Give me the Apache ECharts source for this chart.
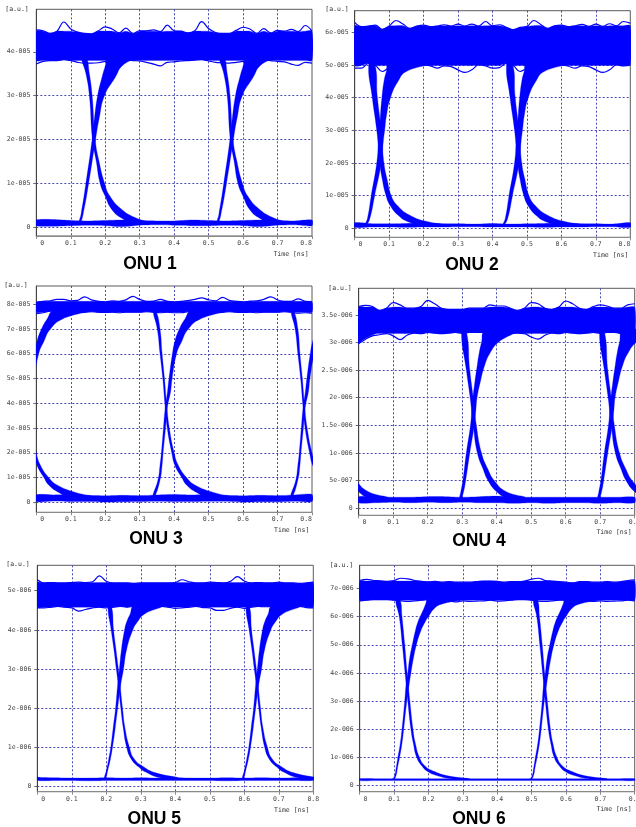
<!DOCTYPE html>
<html><head><meta charset="utf-8">
<style>html,body{margin:0;padding:0;background:#fff;overflow:hidden}#c{width:636px;height:827px;filter:blur(0.55px)}</style>
<script src="https://cdn.jsdelivr.net/npm/echarts@6/dist/echarts.min.js"></script>
</head><body><div id="c"></div>
<script>
// Shared sample positions (ns)
const xSamples=[0,.02,.04,.06,.08,.1,.12,.14,.16,.18,.2,.22,.24,.26,.28,.3,.32,.34,.36,.38,.4,.42,.44,.46,.48,.5,.52,.54,.56,.58,.6,.62,.64,.66,.68,.7,.72,.74,.76,.78,.8];
const xLow=[0,.05,.1,.15,.2,.25,.3,.35,.4,.45,.5,.55,.6,.65,.7,.75,.8];
const xTicks=[0,.1,.2,.3,.4,.5,.6,.7,.8];
const xTickLabels=[' 0','0.1','0.2','0.3','0.4','0.5','0.6','0.7','0.8'];
const edgeOffsets=[-.4,0,.4];

// ONU 1 (y in 1e-5)
const o1Ticks=[0,1,2,3,4];
const o1Labels=['0','1e-005','2e-005','3e-005','4e-005'];
const o1HiTop=[4.50,4.48,4.42,4.47,4.68,4.52,4.45,4.42,4.41,4.48,4.57,4.52,4.43,4.54,4.42,4.48,4.48,4.50,4.46,4.61,4.48,4.47,4.43,4.48,4.69,4.53,4.44,4.42,4.42,4.49,4.56,4.52,4.42,4.53,4.43,4.49,4.47,4.51,4.46,4.60,4.47];
const o1HiBot=[3.72,3.78,3.80,3.80,3.82,3.80,3.76,3.74,3.74,3.75,3.78,3.81,3.82,3.82,3.80,3.79,3.76,3.72,3.68,3.76,3.77,3.79,3.80,3.81,3.82,3.79,3.76,3.75,3.74,3.76,3.78,3.80,3.82,3.81,3.80,3.78,3.77,3.72,3.69,3.76,3.74];
const o1LoTop=[.16,.17,.15,.14,.15,.16,.15,.14,.14,.16,.15,.14,.15,.16,.15,.14,.16];
const o1LoBot=[.03,.02,.03,.04,.03,.01,.04,.05,.04,.03,.03,.04,.03,.01,.04,.05,.03];
const o1RiseY=[.1,.3,1,2,2.5,3,3.4,3.7,3.9];
const o1RiseL=[.124,.13,.144,.162,.169,.178,.19,.201,.209];
const o1RiseR=[.128,.136,.152,.172,.183,.198,.228,.252,.30];
const o1FallY=[3.9,3.5,3,2,1.5,1,.7,.4,.2,.1];
const o1FallL=[.131,.144,.154,.163,.174,.185,.2,.219,.248,.281];
const o1FallR=[.144,.154,.162,.171,.182,.198,.214,.248,.291,.33];

// ONU 2 (y in 1e-5)
const o2Ticks=[0,1,2,3,4,5,6];
const o2Labels=['0','1e-005','2e-005','3e-005','4e-005','5e-005','6e-005'];
const o2HiTop=[6.30,6.17,6.19,6.22,6.09,6.19,6.36,6.25,6.12,6.19,6.22,6.17,6.19,6.23,6.19,6.25,6.19,6.25,6.19,6.33,6.20,6.23,6.15,6.08,6.15,6.18,6.36,6.24,6.12,6.20,6.22,6.17,6.20,6.24,6.18,6.25,6.18,6.26,6.20,6.33,6.28];
const o2HiBot=[4.90,4.90,5.05,4.98,4.80,4.90,4.85,4.95,4.98,5.0,5.0,4.97,4.90,4.97,4.95,4.85,4.77,4.85,5.0,4.97,4.90,4.92,5.05,4.98,4.80,4.88,4.85,4.95,4.98,5.0,5.0,4.96,4.90,4.97,4.95,4.85,4.77,4.85,5.0,4.97,5.0];
const o2LoTop=[.17,.14,.14,.15,.16,.14,.14,.13,.15,.13,.14,.15,.16,.14,.14,.13,.17];
const o2LoBot=[.03,.04,.04,.03,.04,.04,.05,.05,.04,.04,.04,.03,.04,.04,.05,.05,.03];
const o2RiseY=[.1,.3,1,2,2.65,3,3.5,4,4.5,4.8,5.05];
const o2RiseL=[.03,.037,.048,.064,.069,.072,.075,.079,.085,.092,.10];
const o2RiseR=[.034,.044,.058,.077,.083,.087,.093,.104,.126,.15,.227];
const o2FallY=[5.05,4,3,2,1.5,1,.7,.4,.2,.1];
const o2FallL=[.041,.051,.064,.073,.08,.091,.103,.126,.155,.193];
const o2FallR=[.058,.066,.077,.085,.094,.106,.124,.16,.213,.28];

// ONU 3 (y in 1e-5)
const o3Ticks=[0,1,2,3,4,5,6,7,8];
const o3Labels=['0','1e-005','2e-005','3e-005','4e-005','5e-005','6e-005','7e-005','8e-005'];
const o3HiTop=[8.08,8.12,8.14,8.2,8.2,8.14,8.16,8.3,8.18,8.12,8.1,8.14,8.12,8.18,8.32,8.2,8.12,8.13,8.2,8.12,8.1,8.12,8.15,8.2,8.26,8.18,8.14,8.28,8.16,8.12,8.1,8.13,8.14,8.2,8.3,8.18,8.12,8.12,8.22,8.12,8.1];
const o3HiBot=[7.62,7.66,7.72,7.72,7.7,7.68,7.67,7.68,7.7,7.68,7.67,7.68,7.66,7.68,7.68,7.68,7.7,7.68,7.66,7.68,7.66,7.66,7.7,7.72,7.7,7.68,7.67,7.68,7.7,7.68,7.67,7.68,7.66,7.68,7.68,7.68,7.7,7.68,7.64,7.66,7.64];
const o3LoTop=[.3,.3,.3,.28,.26,.28,.27,.3,.32,.3,.3,.28,.26,.28,.27,.3,.32];
const o3LoBot=[.03,.05,.03,.03,.01,.02,.03,.04,.03,.03,.04,.04,.01,.02,.02,.04,.03];
const o3RiseY=[.2,.9,1.5,2,3,3.8,4.5,5,6,6.5,7,7.4,7.75];
const o3RiseL=[.337,.353,.359,.363,.369,.374,.381,.385,.395,.402,.415,.431,.451];
const o3RiseR=[.343,.359,.365,.368,.375,.38,.39,.394,.407,.422,.441,.475,.552];
const o3FallY=[7.75,7,6,5,4,3,2,1.5,1,.7,.4,.2];
const o3FallL=[.339,.351,.359,.367,.373,.38,.393,.402,.422,.436,.465,.5];
const o3FallR=[.347,.359,.365,.372,.378,.386,.4,.412,.436,.46,.514,.57];

// ONU 4 (y in 1e-6)
const o4Ticks=[0,.5,1,1.5,2,2.5,3,3.5];
const o4Labels=['0','5e-007','1e-006','1.5e-006','2e-006','2.5e-006','3e-006','3.5e-006'];
const o4HiTop=[3.65,3.67,3.65,3.58,3.62,3.72,3.68,3.62,3.62,3.65,3.76,3.70,3.62,3.6,3.6,3.6,3.62,3.62,3.62,3.68,3.66,3.66,3.62,3.58,3.62,3.72,3.7,3.62,3.6,3.64,3.75,3.7,3.62,3.6,3.65,3.68,3.66,3.62,3.62,3.68,3.7];
const o4HiBot=[2.98,3.06,3.12,3.14,3.16,3.12,3.05,3.13,3.17,3.16,3.18,3.17,3.16,3.17,3.18,3.17,3.18,3.18,3.18,3.15,3.12,3.14,3.16,3.17,3.16,3.1,3.06,3.13,3.17,3.16,3.18,3.17,3.16,3.17,3.18,3.17,3.18,3.18,3.16,3.1,2.98];
const o4LoTop=[.21,.21,.2,.2,.21,.21,.2,.21,.22,.2,.2,.2,.2,.2,.2,.2,.2];
const o4LoBot=[.1,.1,.11,.1,.11,.1,.11,.1,.1,.09,.1,.09,.1,.1,.09,.1,.1];
const o4RiseY=[.15,.3,.5,1,1.5,1.8,2,2.3,2.6,2.8,3,3.2];
const o4RiseL=[.292,.296,.302,.312,.324,.328,.331,.337,.344,.349,.356,.366];
const o4RiseR=[.296,.304,.31,.322,.335,.34,.343,.353,.366,.38,.404,.452];
const o4FallY=[3.2,2.5,2,1.5,1,.7,.5,.3,.2];
const o4FallL=[.298,.312,.323,.332,.344,.361,.375,.4,.428];
const o4FallR=[.312,.322,.332,.341,.356,.375,.393,.428,.482];

// ONU 5 (y in 1e-6)
const o5Ticks=[0,1,2,3,4,5];
const o5Labels=['0','1e-006','2e-006','3e-006','4e-006','5e-006'];
const o5HiTop=[5.28,5.2,5.21,5.2,5.2,5.21,5.22,5.21,5.23,5.38,5.24,5.2,5.2,5.2,5.19,5.2,5.2,5.2,5.2,5.2,5.21,5.28,5.23,5.2,5.2,5.22,5.21,5.2,5.24,5.36,5.25,5.2,5.21,5.2,5.2,5.22,5.2,5.2,5.19,5.2,5.22];
const o5HiBot=[4.56,4.56,4.58,4.6,4.58,4.56,4.48,4.52,4.56,4.58,4.56,4.58,4.6,4.58,4.6,4.58,4.57,4.58,4.6,4.58,4.55,4.56,4.58,4.6,4.57,4.56,4.5,4.5,4.55,4.58,4.55,4.58,4.6,4.59,4.6,4.58,4.57,4.58,4.6,4.57,4.56];
const o5LoTop=[.22,.22,.21,.21,.22,.21,.22,.21,.22,.21,.21,.22,.21,.22,.21,.22,.22];
const o5LoBot=[.15,.15,.15,.14,.15,.15,.15,.15,.15,.15,.15,.14,.15,.15,.15,.15,.15];
const o5RiseY=[.2,.4,.7,1,1.5,2,2.6,3,3.5,4,4.2,4.4,4.6];
const o5RiseL=[.194,.2,.207,.213,.22,.227,.233,.238,.244,.253,.259,.269,.28];
const o5RiseR=[.198,.204,.212,.218,.226,.233,.242,.25,.259,.277,.29,.31,.36];
const o5FallY=[4.6,4,3.5,3,2.5,2,1.5,1,.7,.5,.35,.21];
const o5FallL=[.205,.214,.222,.229,.236,.242,.249,.259,.272,.293,.317,.36];
const o5FallR=[.215,.221,.228,.235,.241,.247,.254,.267,.281,.308,.341,.41];

// ONU 6 (y in 1e-6)
const o6Ticks=[0,1,2,3,4,5,6,7];
const o6Labels=['0','1e-006','2e-006','3e-006','4e-006','5e-006','6e-006','7e-006'];
const o6HiTop=[7.28,7.32,7.28,7.27,7.25,7.28,7.36,7.34,7.28,7.25,7.23,7.25,7.22,7.24,7.22,7.22,7.22,7.24,7.26,7.26,7.25,7.22,7.24,7.24,7.26,7.33,7.36,7.28,7.26,7.24,7.22,7.2,7.24,7.24,7.22,7.22,7.24,7.22,7.24,7.28,7.3];
const o6HiBot=[6.56,6.58,6.6,6.6,6.6,6.58,6.56,6.54,6.56,6.58,6.6,6.56,6.54,6.56,6.52,6.56,6.54,6.55,6.56,6.58,6.55,6.56,6.58,6.6,6.6,6.58,6.55,6.54,6.56,6.58,6.58,6.56,6.54,6.56,6.54,6.56,6.54,6.55,6.56,6.58,6.56];
const o6LoTop=[.25,.25,.25,.25,.25,.25,.25,.25,.25,.25,.25,.25,.25,.25,.25,.25,.25];
const o6LoBot=[.18,.18,.18,.18,.18,.18,.18,.18,.18,.18,.18,.18,.18,.18,.18,.18,.18];
const o6RiseY=[.22,.3,.7,1,1.5,2,3,3.6,4,4.5,5,5.5,5.8,6,6.3,6.45,6.6];
const o6RiseL=[.092,.1,.107,.111,.118,.123,.131,.135,.14,.145,.153,.162,.169,.176,.187,.192,.198];
const o6RiseR=[.096,.104,.111,.116,.123,.128,.137,.144,.149,.156,.165,.178,.19,.2,.218,.24,.295];
const o6FallY=[6.6,6,5,4,3,2,1.5,1,.7,.5,.35,.24];
const o6FallL=[.105,.115,.124,.132,.14,.149,.156,.166,.181,.198,.227,.27];
const o6FallR=[.117,.123,.131,.138,.146,.155,.162,.174,.19,.218,.256,.32];

const onus=[
 {name:'ONU 1',box:[36.3,312,9.3,236],ymin:-.205,ymax:4.97,ceil:4.47,floor:3.8,ticks:o1Ticks,labels:o1Labels,hiTop:o1HiTop,hiBot:o1HiBot,loTop:o1LoTop,loBot:o1LoBot,riseY:o1RiseY,riseL:o1RiseL,riseR:o1RiseR,fallY:o1FallY,fallL:o1FallL,fallR:o1FallR,maxAlign:'right',au:[17,9.5],time:[291,254],title:[150,264]},
 {name:'ONU 2',box:[354.7,630.3,10.7,237.3],ymin:-.275,ymax:6.66,ceil:6.2,floor:4.98,ticks:o2Ticks,labels:o2Labels,hiTop:o2HiTop,hiBot:o2HiBot,loTop:o2LoTop,loBot:o2LoBot,riseY:o2RiseY,riseL:o2RiseL,riseR:o2RiseR,fallY:o2FallY,fallL:o2FallL,fallR:o2FallR,maxAlign:'right',au:[337,9.5],time:[610.7,255],title:[472,265]},
 {name:'ONU 3',box:[36.3,312,286,512.3],ymin:-.404,ymax:8.74,ceil:8.12,floor:7.68,ticks:o3Ticks,labels:o3Labels,hiTop:o3HiTop,hiBot:o3HiBot,loTop:o3LoTop,loBot:o3LoBot,riseY:o3RiseY,riseL:o3RiseL,riseR:o3RiseR,fallY:o3FallY,fallL:o3FallL,fallR:o3FallR,maxAlign:'right',au:[16,285.5],time:[291.7,530.7],title:[156,539]},
 {name:'ONU 4',box:[358.7,634.7,288.3,515.3],ymin:-.127,ymax:3.98,ceil:3.64,floor:3.16,ticks:o4Ticks,labels:o4Labels,hiTop:o4HiTop,hiBot:o4HiBot,loTop:o4LoTop,loBot:o4LoBot,riseY:o4RiseY,riseL:o4RiseL,riseR:o4RiseR,fallY:o4FallY,fallL:o4FallL,fallR:o4FallR,maxAlign:'center',au:[340,288],time:[614,532.3],title:[479,541]},
 {name:'ONU 5',box:[37.3,313.3,565.3,791.7],ymin:-.138,ymax:5.65,ceil:5.21,floor:4.58,ticks:o5Ticks,labels:o5Labels,hiTop:o5HiTop,hiBot:o5HiBot,loTop:o5LoTop,loBot:o5LoBot,riseY:o5RiseY,riseL:o5RiseL,riseR:o5RiseR,fallY:o5FallY,fallL:o5FallL,fallR:o5FallR,maxAlign:'center',au:[18,564.3],time:[291.7,810],title:[154.3,819.3]},
 {name:'ONU 6',box:[359.7,634.7,565.3,791.7],ymin:-.213,ymax:7.82,ceil:7.26,floor:6.58,ticks:o6Ticks,labels:o6Labels,hiTop:o6HiTop,hiBot:o6HiBot,loTop:o6LoTop,loBot:o6LoBot,riseY:o6RiseY,riseL:o6RiseL,riseR:o6RiseR,fallY:o6FallY,fallL:o6FallL,fallR:o6FallR,maxAlign:'center',au:[341.5,565.3],time:[614,809.3],title:[479,819]}
];

const BLUE='#0000ff', MONO='"DejaVu Sans Mono",monospace', DASH='#4a4ab8';
const zip=(xs,ys)=>xs.map((x,i)=>[x,ys[i]]);
function polygon(gi,polys,smooth){
  return {type:'custom',xAxisIndex:gi,yAxisIndex:gi,coordinateSystem:'cartesian2d',clip:true,silent:true,z:3,
    data:polys.map((_,i)=>[i]),encode:{x:[],y:[]},
    renderItem:(p,api)=>({type:'polygon',shape:{points:polys[p.dataIndex].map(q=>api.coord(q)),smooth:smooth},style:{fill:BLUE,stroke:BLUE,lineWidth:.3}})};
}
function trace(gi,xs,ys){
  return {type:'line',xAxisIndex:gi,yAxisIndex:gi,data:zip(xs,ys),showSymbol:false,smooth:.4,clip:true,silent:true,z:3,
    lineStyle:{color:BLUE,width:1.2},itemStyle:{color:BLUE}};
}
const grid=[],xAxis=[],yAxis=[],series=[],title=[];
const small=(text,pos)=>({text,left:pos[0],top:pos[1],textAlign:'center',textVerticalAlign:'middle',padding:0,textStyle:{fontFamily:MONO,fontSize:6.5,fontWeight:'normal',color:'#333'}});
onus.forEach((o,g)=>{
  const [l,r,t,b]=o.box;
  grid.push({left:l,top:t,width:r-l,height:b-t,outerBoundsMode:'none',show:true,borderColor:'#5a5a5a',borderWidth:1,backgroundColor:'#fff'});
  xAxis.push({type:'value',gridIndex:g,min:0,max:.8,interval:.1,
    axisLine:{onZero:false,lineStyle:{color:'#8a8a8a'}},axisTick:{length:3,lineStyle:{color:'#8a8a8a'}},
    axisLabel:{margin:4,fontFamily:MONO,fontSize:6.5,color:'#444',alignMinLabel:'left',alignMaxLabel:o.maxAlign,hideOverlap:false,showMinLabel:true,showMaxLabel:true,
      formatter:v=>xTickLabels[xTicks.findIndex(k=>Math.abs(k-v)<1e-6)]},
    splitLine:{show:true,showMinLine:false,showMaxLine:false,lineStyle:{type:[2,2],color:DASH,width:1}}});
  yAxis.push({type:'value',gridIndex:g,min:o.ymin,max:o.ymax,
    axisLine:{show:true,onZero:false,lineStyle:{color:'#444'}},axisTick:{show:true,length:3,lineStyle:{color:'#666'},customValues:o.ticks},
    axisLabel:{margin:6,fontFamily:MONO,fontSize:6.5,color:'#444',customValues:o.ticks,
      formatter:v=>o.labels[o.ticks.findIndex(k=>Math.abs(k-v)<1e-6)]},
    splitLine:{show:true,lineStyle:{type:[2,2],color:DASH,width:1}}});
  // dense bands: the envelope traces, held to the solid part of the bundle so the peaks stay open loops
  const solidTop=o.hiTop.map(v=>Math.min(v,o.ceil));
  const solidBot=o.hiBot.map(v=>Math.max(v,o.floor));
  const core=[...zip(xSamples,solidTop),...zip(xSamples,solidBot).reverse()];
  const low=[...zip(xLow,o.loTop),...zip(xLow,o.loBot).reverse()];
  series.push(polygon(g,[core,low],.25));
  // rising and falling edges, one pair per unit-interval offset
  const edges=[];
  edgeOffsets.forEach(d=>{
    edges.push([...o.riseL.map((x,i)=>[x+d,o.riseY[i]]),...o.riseR.map((x,i)=>[x+d,o.riseY[i]]).reverse()]);
    edges.push([...o.fallL.map((x,i)=>[x+d,o.fallY[i]]),...o.fallR.map((x,i)=>[x+d,o.fallY[i]]).reverse()]);
  });
  series.push(polygon(g,edges,.5));
  // outermost noisy traces
  series.push(trace(g,xSamples,o.hiTop),trace(g,xSamples,o.hiBot));
  title.push(small('[a.u.]',o.au),small('Time [ns]',o.time));
  title.push({text:o.name,left:o.title[0],top:o.title[1],textAlign:'center',textVerticalAlign:'middle',padding:0,textStyle:{fontFamily:'"Liberation Sans",Arial,sans-serif',fontSize:17.5,fontWeight:'bold',color:'#000'}});
});
const chart=echarts.init(document.getElementById('c'),null,{renderer:'canvas'});
chart.setOption({animation:false,backgroundColor:'#fff',title,grid,xAxis,yAxis,series,tooltip:{show:false}});
</script></body></html>
